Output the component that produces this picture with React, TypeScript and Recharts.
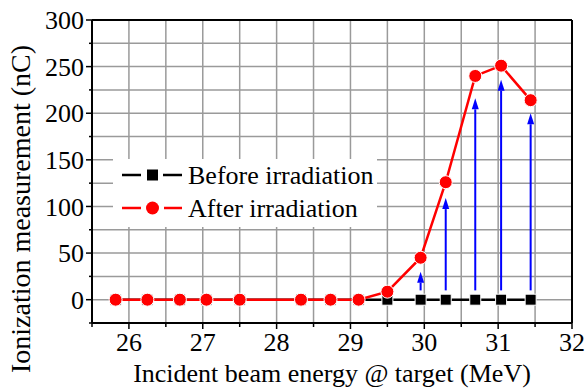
import React from "react"
import { CartesianGrid, Label, Legend, Line, LineChart, ReferenceLine, XAxis, YAxis } from "recharts"

const energy = [25.82, 26.25, 26.69, 27.05, 27.5, 28.33, 28.73, 29.11, 29.5, 29.95, 30.29, 30.69, 31.04, 31.44]
const beforeIrr = [0, 0, 0, 0, 0, 0, 0, 0, 0, 0, 0, 0, 0, 0]
const afterIrr = [0, 0, 0, 0, 0, 0, 0, 0, 8.6, 45, 126, 240, 251, 214]

// blue arrows: rise between before and after
const arrowX = [29.95, 30.29, 30.69, 31.04, 31.44]
const arrowFrom = [10, 10, 10, 10, 10]
const arrowTo = [30, 109, 216, 236, 200]

const xTicks = [25.5, 26, 26.5, 27, 27.5, 28, 28.5, 29, 29.5, 30, 30.5, 31, 31.5, 32]
const yTicks = [-25, 0, 25, 50, 75, 100, 125, 150, 175, 200, 225, 250, 275, 300]

const data = energy.map((e, i) => ({ e, before: beforeIrr[i], after: afterIrr[i] }))

const FONT = '"Liberation Serif", serif'
const txt = { fontFamily: FONT, fontSize: 26, fill: "#000" }

const XTick = ({ x, y, payload }: any) => {
  const major = Number.isInteger(payload.value)
  return (
    <g>
      <line x1={x} x2={x} y1={y} y2={y + (major ? 6 : 4)} stroke="#000" strokeWidth={1.5} />
      {major && (
        <text x={x} y={y + 10} dy="0.71em" textAnchor="middle" style={txt}>
          {payload.value}
        </text>
      )}
    </g>
  )
}

const YTick = ({ x, y, payload }: any) => {
  const major = payload.value % 50 === 0
  return (
    <g>
      <line x1={x} x2={x - (major ? 6 : 3)} y1={y} y2={y} stroke="#000" strokeWidth={1.5} />
      {major && (
        <text x={x - 8} y={y} dy="0.35em" textAnchor="end" style={txt}>
          {payload.value}
        </text>
      )}
    </g>
  )
}

const Arrow = (props: any) => {
  const { x1, y1, x2, y2 } = props
  if (x1 == null) return <g />
  const head = 11
  const dir = y2 < y1 ? 1 : -1
  return (
    <g>
      <line x1={x1} x2={x2} y1={y1} y2={y2 + dir * head} stroke="#0000ff" strokeWidth={2} />
      <polygon
        points={`${x2},${y2} ${x2 - 3.5},${y2 + dir * head} ${x2 + 3.5},${y2 + dir * head}`}
        fill="#0000ff"
      />
    </g>
  )
}

const Square = (props: any) => {
  const { cx, cy, index } = props
  if (cx == null) return <g key={index} />
  return <rect key={index} x={cx - 5.5} y={cy - 5.5} width={11} height={11} fill="#000" stroke="#fff" strokeWidth={1} />
}

const LegendBox = () => (
  <div
    style={{
      background: "#fff",
      width: 264,
      height: 68,
      fontFamily: FONT,
      fontSize: 26,
      position: "relative",
    }}
  >
    <svg width={72} height={68} style={{ position: "absolute", left: 0, top: 0 }}>
      <line x1={9} x2={28} y1={16} y2={16} stroke="#000" strokeWidth={2.5} />
      <rect x={34} y={10.5} width={11} height={11} fill="#000" />
      <line x1={50} x2={69} y1={16} y2={16} stroke="#000" strokeWidth={2.5} />
      <line x1={9} x2={28} y1={49} y2={49} stroke="#ff0000" strokeWidth={2.5} />
      <circle cx={39.5} cy={49} r={6.5} fill="#ff0000" />
      <line x1={51} x2={69} y1={49} y2={49} stroke="#ff0000" strokeWidth={2.5} />
    </svg>
    <div style={{ position: "absolute", left: 75, top: 0, lineHeight: "33px", whiteSpace: "nowrap" }}>
      <div>Before irradiation</div>
      <div>After irradiation</div>
    </div>
  </div>
)

export default function App() {
  return (
    <div style={{ position: "absolute", left: 0, top: 0, background: "#fff", fontFamily: FONT }}>
      <LineChart
        width={586}
        height={391}
        data={data}
        margin={{ top: 20, right: 14, left: 0, bottom: 0 }}
        style={{ fontFamily: FONT }}
      >
        <CartesianGrid stroke="#9a9a9a" strokeWidth={1.5} />
        <XAxis
          dataKey="e"
          type="number"
          domain={[25.5, 32]}
          ticks={xTicks}
          interval={0}
          height={68}
          tickSize={0}
          tickMargin={0}
          tickLine={false}
          tick={<XTick />}
          axisLine={{ stroke: "#000", strokeWidth: 2 }}
        >
          <Label
            content={() => (
              <text x={332} y={382} textAnchor="middle" style={txt}>
                Incident beam energy @ target (MeV)
              </text>
            )}
          />
        </XAxis>
        <YAxis
          type="number"
          domain={[-25, 300]}
          ticks={yTicks}
          interval={0}
          width={92}
          tickSize={0}
          tickMargin={0}
          tickLine={false}
          tick={<YTick />}
          axisLine={{ stroke: "#000", strokeWidth: 2 }}
        >
          <Label
            content={() => (
              <text
                x={30}
                y={209}
                transform="rotate(-90, 30, 209)"
                textAnchor="middle"
                style={{ ...txt, fontSize: 28 }}
              >
                Ionization measurement (nC)
              </text>
            )}
          />
        </YAxis>
        <ReferenceLine y={300} stroke="#000" strokeWidth={2} />
        <ReferenceLine x={32} stroke="#000" strokeWidth={2} />
        {arrowX.map((x, i) => (
          <ReferenceLine
            key={`arrow-${i}`}
            segment={[
              { x, y: arrowFrom[i] },
              { x, y: arrowTo[i] },
            ]}
            shape={Arrow}
          />
        ))}
        <Line
          dataKey="before"
          stroke="#000"
          strokeWidth={2.5}
          dot={Square}
          isAnimationActive={false}
        />
        <Line
          dataKey="after"
          stroke="#ff0000"
          strokeWidth={2.5}
          dot={{ r: 6.5, fill: "#ff0000", stroke: "#fff", strokeWidth: 1 }}
          isAnimationActive={false}
        />
        <Legend
          layout="horizontal"
          verticalAlign="middle"
          align="center"
          content={<LegendBox />}
          wrapperStyle={{ left: 113, top: 159, width: 264, height: 68 }}
        />
      </LineChart>
    </div>
  )
}
